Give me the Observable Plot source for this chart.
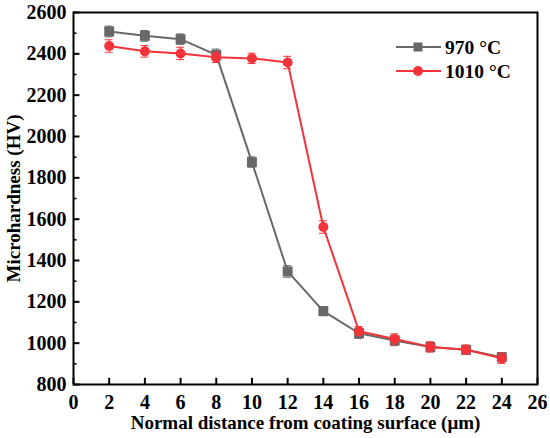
<!DOCTYPE html>
<html>
<head>
<meta charset="utf-8">
<script src="https://cdn.jsdelivr.net/npm/d3@7"></script>
<script src="https://cdn.jsdelivr.net/npm/@observablehq/plot@0.6"></script>
<style>
  html, body { margin: 0; padding: 0; background: #fff; }
  #wrap { position: relative; width: 550px; height: 438px; }
  #legend { position: absolute; left: 0; top: 0; pointer-events: none; }
</style>
</head>
<body>
<div id="wrap"></div>
<script>
// ---- data ----
const distance = [2, 4, 6, 8, 10, 12, 14, 16, 18, 20, 22, 24];
const hv970  = [2508, 2487, 2471, 2395, 1876, 1347, 1155, 1048, 1013, 981, 968, 932];
const err970 = [26, 26, 25, 28, 25, 28, 22, 25, 25, 22, 22, 22];
const hv1010  = [2438, 2412, 2402, 2383, 2378, 2358, 1562, 1058, 1020, 982, 968, 927];
const err1010 = [30, 28, 30, 25, 25, 30, 30, 22, 25, 25, 22, 25];
const seriesNames = ["970 °C", "1010 °C"];
const xTicks = [0, 2, 4, 6, 8, 10, 12, 14, 16, 18, 20, 22, 24, 26];
const yTicks = [800, 1000, 1200, 1400, 1600, 1800, 2000, 2200, 2400, 2600];
const yMinor = [900, 1100, 1300, 1500, 1700, 1900, 2100, 2300, 2500];

const GRAY = "#686868";
const RED = "#f2343a";
const FONT = "Liberation Serif, Times New Roman, serif";

const s970 = distance.map((x, i) => ({x, y: hv970[i], e: err970[i]}));
const s1010 = distance.map((x, i) => ({x, y: hv1010[i], e: err1010[i]}));

const capW = 0.22;
function errMarks(data, color) {
  return [
    Plot.ruleX(data, {x: "x", y1: d => d.y - d.e, y2: d => d.y + d.e, stroke: color, strokeWidth: 1}),
    Plot.ruleY(data, {y: d => d.y - d.e, x1: d => d.x - capW, x2: d => d.x + capW, stroke: color, strokeWidth: 1}),
    Plot.ruleY(data, {y: d => d.y + d.e, x1: d => d.x - capW, x2: d => d.x + capW, stroke: color, strokeWidth: 1})
  ];
}

const chart = Plot.plot({
  width: 550,
  height: 438,
  marginLeft: 73,
  marginRight: 13,
  marginTop: 12,
  marginBottom: 54,
  style: {fontFamily: FONT, fontWeight: "bold", fontSize: "19px", color: "#000", background: "#fff"},
  x: {domain: [0, 26]},
  y: {domain: [800, 2600]},
  marks: [
    // inward ticks
    Plot.ruleX(xTicks, {x: d => d, y1: 800, y2: 830, stroke: "#000", strokeWidth: 2}),
    Plot.ruleY(yTicks, {y: d => d, x1: 0, x2: 0.36, stroke: "#000", strokeWidth: 2}),
    Plot.ruleY(yMinor, {y: d => d, x1: 0, x2: 0.2, stroke: "#000", strokeWidth: 1.5}),
    // tick labels
    Plot.text(xTicks, {x: d => d, y: 800, text: d => String(d), dy: 18, lineAnchor: "middle",
      fontSize: 20, fontWeight: "bold", fontFamily: FONT, fill: "#000"}),
    Plot.text(yTicks, {x: 0, y: d => d, text: d => String(d), dx: -7, textAnchor: "end", lineAnchor: "middle",
      fontSize: 20, fontWeight: "bold", fontFamily: FONT, fill: "#000"}),
    // axis titles
    Plot.axisX({ticks: [], tickSize: 0,
      label: "Normal distance from coating surface (μm)", labelAnchor: "center", labelArrow: "none", labelOffset: 44}),
    Plot.axisY({ticks: [], tickSize: 0,
      label: "Microhardness (HV)", labelAnchor: "center", labelArrow: "none", labelOffset: 67}),
    // 970
    ...errMarks(s970, GRAY),
    Plot.line(s970, {x: "x", y: "y", stroke: GRAY, strokeWidth: 2}),
    Plot.dot(s970, {x: "x", y: "y", symbol: "square", r: 5.6, fill: GRAY, stroke: "none"}),
    // 1010
    ...errMarks(s1010, RED),
    Plot.line(s1010, {x: "x", y: "y", stroke: RED, strokeWidth: 2}),
    Plot.dot(s1010, {x: "x", y: "y", symbol: "circle", r: 5, fill: RED, stroke: "none"}),
    Plot.frame({stroke: "#000", strokeWidth: 2})
  ]
});

const wrap = document.getElementById("wrap");
wrap.appendChild(chart);

// legend overlay
const legend = d3.select(wrap).append("svg")
  .attr("id", "legend").attr("width", 550).attr("height", 438);
const items = [
  {name: seriesNames[0], color: GRAY, sym: "square", cy: 47},
  {name: seriesNames[1], color: RED, sym: "circle", cy: 71}
];
items.forEach(it => {
  const g = legend.append("g");
  g.append("line").attr("x1", 396).attr("x2", 441).attr("y1", it.cy).attr("y2", it.cy)
    .attr("stroke", it.color).attr("stroke-width", 2);
  if (it.sym === "square") {
    g.append("rect").attr("x", 418 - 4.5).attr("y", it.cy - 4.5).attr("width", 9).attr("height", 9).attr("fill", it.color);
  } else {
    g.append("circle").attr("cx", 418).attr("cy", it.cy).attr("r", 5).attr("fill", it.color);
  }
  g.append("text").attr("x", 445).attr("y", it.cy + 6.5).text(it.name)
    .attr("font-family", FONT).attr("font-weight", "bold").attr("font-size", 19.5).attr("fill", "#000");
});
</script>
</body>
</html>
